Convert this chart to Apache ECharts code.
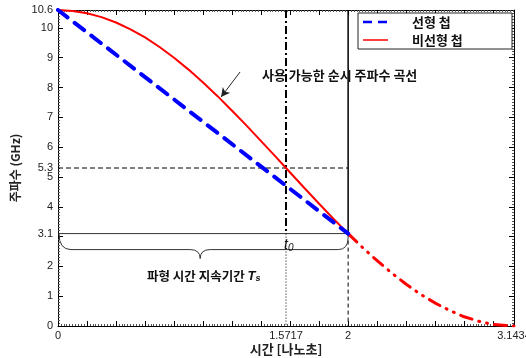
<!DOCTYPE html>
<html>
<head>
<meta charset="utf-8">
<script src="https://cdn.jsdelivr.net/npm/echarts@6/dist/echarts.min.js"></script>
<style>html,body{margin:0;padding:0;background:#fff;}#c{width:526px;height:358px;}</style>
</head>
<body>
<div id="c"></div>
<script>
// ---- data ----
const timeMax = 3.1434;
const freqMax = 10.6;
const xTickLabels = [0, 1.5717, 2, 3.1434];
const yTickLabels = [0, 1, 2, 3.1, 4, 5, 5.3, 6, 7, 8, 9, 10, 10.6];
const linearTime = [0, 2];
const linearFreq = [10.6, 3.1];
const nonlinearTime = [0, 0.1, 0.2, 0.3, 0.4, 0.5, 0.6, 0.7, 0.8, 0.9, 1.0, 1.1, 1.2, 1.3, 1.4, 1.5, 1.5717, 1.6, 1.7, 1.8, 1.9, 2.0,
  2.1, 2.2, 2.3, 2.4, 2.5, 2.6, 2.7, 2.8, 2.9, 3.0, 3.1434];
const nonlinearFreq = [10.6, 10.57, 10.49, 10.36, 10.18, 9.95, 9.68, 9.36, 9.0, 8.6, 8.17, 7.71, 7.22, 6.72, 6.2, 5.68, 5.3, 5.15, 4.62, 4.1, 3.59, 3.1,
  2.63, 2.19, 1.78, 1.4, 1.06, 0.77, 0.52, 0.31, 0.16, 0.05, 0];
const t0 = 1.5717;      // marked instant
const tEnd = 2;         // end of usable chirp
const fAtT0 = 5.3;
const fAtEnd = 3.1;
const arrowFrom = [1.255, 8.52];
const arrowTo = [1.124, 7.68];
const braceTip = 0.98;
const labels = {
  yName: '주파수 (GHz)',
  xName: '시간 [나노초]',
  linear: '선형 첩',
  nonlinear: '비선형 첩',
  curve: '사용 가능한 순시 주파수 곡선',
  duration: '파형 시간 지속기간 '
};

const pairs = (xs, ys) => xs.map((x, i) => [x, ys[i]]);
const allNL = pairs(nonlinearTime, nonlinearFreq);
const nlSolid = allNL.filter(p => p[0] <= tEnd);
const nlTail = allNL.filter(p => p[0] >= tEnd);

const latin = 'Liberation Sans, Arial, sans-serif';
const kr = '"Noto Sans CJK KR", "Noto Sans", sans-serif';

const chart = echarts.init(document.getElementById('c'), null, {renderer: 'canvas'});

function refLine(data, color, width, type) {
  return {type: 'line', data: data, symbol: 'none', silent: true, z: 1,
    lineStyle: {color: color, width: width, type: type}, animation: false};
}

const axisCommon = {
  type: 'value', splitLine: {show: false},
  axisLine: {show: true, onZero: false, lineStyle: {color: '#000', width: 1}},
  axisTick: {show: true, inside: true, length: 5, lineStyle: {color: '#000', width: 1}},
  minorTick: {show: true, splitNumber: 10, length: 2, lineStyle: {color: '#555', width: 1}},
  minorSplitLine: {show: false}
};

chart.setOption({
  animation: false,
  grid: {left: 58, right: 12, top: 10, bottom: 32, containLabel: false, outerBoundsMode: 'none'},
  xAxis: [
    Object.assign({}, axisCommon, {
      min: 0, max: timeMax, interval: 0.2, position: 'bottom',
      axisLabel: {customValues: xTickLabels, formatter: v => String(+v.toFixed(4)),
        color: '#222', fontFamily: latin, fontSize: 11, margin: 4, showMaxLabel: true, showMinLabel: true},
      name: labels.xName, nameLocation: 'middle', nameGap: 17, nameMoveOverlap: false,
      nameTextStyle: {fontFamily: kr, fontWeight: 'bold', fontSize: 13, color: '#222'}
    }),
    Object.assign({}, axisCommon, {
      min: 0, max: timeMax, interval: 0.2, position: 'top', axisLabel: {show: false}
    })
  ],
  yAxis: [
    Object.assign({}, axisCommon, {
      min: 0, max: freqMax, interval: 1, position: 'left',
      axisLabel: {customValues: yTickLabels, formatter: v => String(+v.toFixed(1)),
        color: '#222', fontFamily: latin, fontSize: 11, margin: 5},
      name: labels.yName, nameLocation: 'middle', nameGap: 37, nameMoveOverlap: false,
      nameTextStyle: {fontFamily: kr, fontWeight: 'bold', fontSize: 12, color: '#222'}
    }),
    Object.assign({}, axisCommon, {
      min: 0, max: freqMax, interval: 1, position: 'right', axisLabel: {show: false}
    })
  ],
  series: [
    refLine([[0, fAtEnd], [tEnd, fAtEnd]], '#333', 1, 'solid'),
    refLine([[0, fAtT0], [tEnd, fAtT0]], '#000', 1, [5, 3]),
    refLine([[t0, freqMax], [t0, fAtEnd]], '#000', 2, [8, 3, 2, 3]),
    refLine([[t0, fAtEnd], [t0, 0]], '#000', 1, [1, 2]),
    refLine([[tEnd, freqMax], [tEnd, fAtEnd]], '#000', 1.5, 'solid'),
    refLine([[tEnd, fAtEnd], [tEnd, 0]], '#000', 1, [4, 3]),
    {
      type: 'line', name: labels.nonlinear, data: nlSolid, symbol: 'none', z: 3,
      lineStyle: {color: '#ff0000', width: 2}
    },
    {
      type: 'line', data: nlTail, symbol: 'none', z: 3,
      lineStyle: {color: '#ff0000', width: 3, type: [12, 7, 1, 7, 1, 7], cap: 'round'},
      markLine: {
        silent: true, symbol: ['none', 'arrow'], symbolSize: [7, 9],
        lineStyle: {color: '#222', width: 1, type: 'solid'}, label: {show: false},
        data: [[{coord: arrowFrom}, {coord: arrowTo}]]
      }
    },
    {
      type: 'line', name: labels.linear, data: pairs(linearTime, linearFreq), symbol: 'none', z: 4,
      lineStyle: {color: '#0000ff', width: 4, type: [12, 9], cap: 'round'}
    },
    {
      type: 'custom', silent: true, z: 2,
      data: [[0, tEnd, fAtEnd, braceTip]],
      renderItem: function (params, api) {
        const a = api.coord([api.value(0), api.value(2)]);
        const b = api.coord([api.value(1), api.value(2)]);
        const tip = api.coord([api.value(3), api.value(2)]);
        const y0 = a[1], y1 = y0 + 16, y2 = y0 + 25;
        const x0 = a[0] + 1, x1 = b[0], tx = tip[0];
        const p = `M${x0},${y0} Q${x0},${y1} ${x0 + 12},${y1} L${tx - 10},${y1} Q${tx},${y1} ${tx},${y2} Q${tx},${y1} ${tx + 10},${y1} L${x1 - 10},${y1} Q${x1},${y1} ${x1},${y0 + 4}`;
        return {type: 'path', shape: {pathData: p}, style: {fill: null, stroke: '#333', lineWidth: 1}};
      }
    }
  ],
  graphic: [
    {type: 'rect', shape: {x: 358, y: 13, width: 154, height: 36}, style: {fill: '#fff', stroke: '#222', lineWidth: 1}, z: 100},
    {type: 'line', shape: {x1: 363, y1: 22, x2: 388, y2: 22}, style: {stroke: '#0000ff', lineWidth: 2.5, lineDash: [9, 6]}, z: 101},
    {type: 'line', shape: {x1: 363, y1: 40, x2: 388, y2: 40}, style: {stroke: '#ff0000', lineWidth: 1.5}, z: 101},
    {type: 'text', x: 412, y: 22, style: {text: labels.linear, font: 'bold 13px ' + kr, fill: '#111', verticalAlign: 'middle'}, z: 101},
    {type: 'text', x: 412, y: 40, style: {text: labels.nonlinear, font: 'bold 13px ' + kr, fill: '#111', verticalAlign: 'middle'}, z: 101},
    {type: 'text', x: 262, y: 75, style: {text: labels.curve, font: 'bold 13px ' + kr, fill: '#111', verticalAlign: 'middle', backgroundColor: 'transparent'}, z: 50},
    {type: 'text', x: 147, y: 276, style: {
      text: '{k|' + labels.duration + '}{i|T}{s|s}', verticalAlign: 'middle',
      rich: {
        k: {font: 'bold 12.5px ' + kr, fill: '#111'},
        i: {font: 'italic bold 13px ' + latin, fill: '#111'},
        s: {font: 'italic bold 9px ' + latin, fill: '#111', verticalAlign: 'bottom', padding: [6, 0, 0, 0]}
      }}, z: 50},
    {type: 'text', x: 284, y: 245, style: {
      text: '{i|t}{s|0}', verticalAlign: 'middle',
      rich: {
        i: {font: 'italic 14px ' + latin, fill: '#111'},
        s: {font: 'italic 10px ' + latin, fill: '#111', padding: [6, 0, 0, 0]}
      }}, z: 50}
  ]
});
</script>
</body>
</html>
